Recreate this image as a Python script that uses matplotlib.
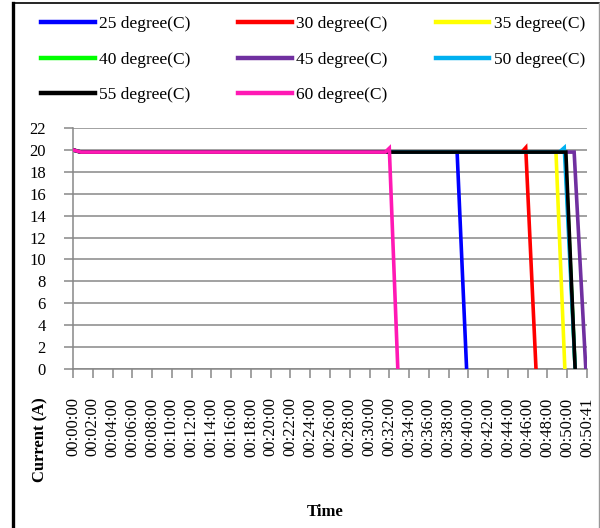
import matplotlib

matplotlib.use("Agg")
import matplotlib.pyplot as plt
from matplotlib.lines import Line2D

plt.rcParams["font.family"] = ["Liberation Serif", "DejaVu Serif"]

# category axis labels (one tick per category)
tick_labels = [f"00:{m:02d}:00" for m in range(0, 52, 2)] + ["00:50:41"]

# x given as position on the category axis (0 = 00:00:00, 26 = 00:50:41)
x_25 = [0, 0.4, 19.43, 19.91]
y_25 = [20.0, 19.8, 19.8, 0]
x_30 = [0, 0.4, 22.7, 22.9, 23.42]
y_30 = [20.0, 19.8, 19.8, 20.2, 0]
x_35 = [0, 0.4, 24.43, 24.88]
y_35 = [20.0, 19.8, 19.8, 0]
x_40 = [0, 0.4, 24.9, 25.4]
y_40 = [20.0, 19.8, 19.8, 0]
x_45 = [0, 0.4, 25.35, 25.94]
y_45 = [20.0, 19.8, 19.8, 0]
x_50 = [0, 0.4, 24.6, 24.85, 25.4]
y_50 = [20.0, 19.8, 19.8, 20.2, 0]
x_55 = [0, 0.4, 24.93, 25.4]
y_55 = [20.0, 19.8, 19.8, 0]
x_60 = [0, 0.4, 15.8, 16.0, 16.43]
y_60 = [20.0, 19.8, 19.8, 20.15, 0]

series = [
    ("25 degree(C)", x_25, y_25, "#0000ff"),
    ("30 degree(C)", x_30, y_30, "#ff0000"),
    ("35 degree(C)", x_35, y_35, "#ffff00"),
    ("40 degree(C)", x_40, y_40, "#00ff00"),
    ("45 degree(C)", x_45, y_45, "#7030a0"),
    ("50 degree(C)", x_50, y_50, "#00b0f0"),
    ("55 degree(C)", x_55, y_55, "#000000"),
    ("60 degree(C)", x_60, y_60, "#ff19b4"),
]

fig = plt.figure(figsize=(6, 5.28), dpi=100)
ax = fig.add_axes([73 / 600, 1 - 369 / 528, (587 - 73) / 600, (369 - 128) / 528])

grid_c = "#878787"
for label, xs, ys, c in series:
    ax.plot(xs, ys, color=c, lw=2.6, label=label, solid_joinstyle="miter", zorder=3)

ax.set_xlim(0, len(tick_labels) - 1)
ax.set_ylim(0, 22)
ax.set_yticks(range(0, 23, 2))
ax.set_xticks(range(len(tick_labels)))
ax.set_xticklabels(tick_labels, rotation=90, fontsize=12)
ax.tick_params(axis="y", labelsize=12, length=6.5, width=1.1, color=grid_c, pad=13)
ax.tick_params(axis="x", length=6.5, width=1.1, color=grid_c, pad=14)
ax.grid(axis="y", color=grid_c, lw=1.1, zorder=0)
for side in ("top", "right"):
    ax.spines[side].set_visible(False)
for side in ("left", "bottom"):
    ax.spines[side].set_color(grid_c)
    ax.spines[side].set_linewidth(1.1)

fig.text(40 / 600, 1 - 440 / 528, "Current (A)", rotation=90, fontsize=12,
         fontweight="bold", ha="center", va="center")
fig.text(325 / 600, 1 - 512 / 528, "Time", fontsize=12, fontweight="bold",
         ha="center", va="center")

# legend is filled row by row in the reference, matplotlib fills by column
order = [0, 3, 6, 1, 4, 7, 2, 5]
handles = [Line2D([], [], color=series[i][3], lw=3.2) for i in order]
labels = [series[i][0] for i in order]
fig.legend(handles, labels, ncol=3, loc="upper left",
           bbox_to_anchor=(41 / 600, 1 - 16 / 528), frameon=False, fontsize=12.5,
           handlelength=3.1, handletextpad=0.25, columnspacing=2.75,
           labelspacing=1.12, borderpad=0, borderaxespad=0)

# outer chart frame
fig.add_artist(Line2D([12.5 / 600, 12.5 / 600], [0, 1 - 3 / 528], color="black", lw=2.4,
                      transform=fig.transFigure))
fig.add_artist(Line2D([12.5 / 600, 599 / 600], [1 - 3 / 528, 1 - 3 / 528], color="black",
                      lw=1.2, transform=fig.transFigure))
fig.add_artist(Line2D([599 / 600, 599 / 600], [0, 1 - 3 / 528], color="#999999", lw=1,
                      transform=fig.transFigure))

fig.savefig("out.png", dpi=100)
